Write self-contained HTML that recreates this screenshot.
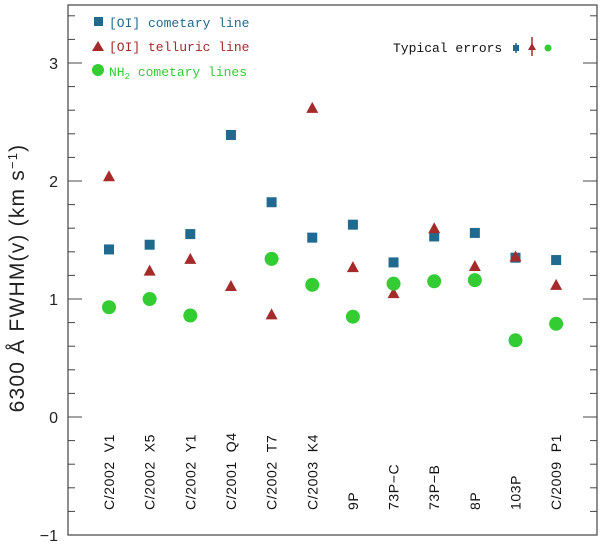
<!DOCTYPE html>
<html><head><meta charset="utf-8"><style>
body{margin:0;background:#fff;}
.sans{font-family:"Liberation Sans",sans-serif;}
.mono{font-family:"Liberation Mono",monospace;}
</style></head><body>
<svg id="chart" width="600" height="543" xmlns="http://www.w3.org/2000/svg">
<rect x="68" y="5" width="529" height="530" fill="none" stroke="#444" stroke-width="1.2"/>
<g id="ticks"></g>
<g id="cats"></g>
<g id="marks"></g>
<text class="sans" transform="translate(24,278) rotate(-90)" text-anchor="middle" font-size="21" letter-spacing="1.2" fill="#222">6300 Å FWHM(v) (km s<tspan dy="-7" font-size="13">−1</tspan><tspan dy="7">)</tspan></text>
<g font-size="13">
<rect x="94" y="17" width="9" height="9" fill="#1f6a8e"/>
<text class="mono" x="109" y="27" fill="#1f6a8e">[OI] cometary line</text>
<polygon points="98,41 104,51 92,51" fill="#a52a2a"/>
<text class="mono" x="109" y="51" fill="#a52a2a">[OI] telluric line</text>
<circle cx="98" cy="70" r="6" fill="#33cc33"/>
<text class="mono" x="109" y="76" fill="#33cc33">NH<tspan dy="3" font-size="9">2</tspan><tspan dy="-3"> cometary lines</tspan></text>
</g>
<g>
<text class="mono" x="393" y="52" font-size="13" fill="#111">Typical errors</text>
<line x1="516" y1="43" x2="516" y2="53" stroke="#1f6a8e" stroke-width="1.5"/>
<rect x="513" y="45" width="6" height="6" fill="#1f6a8e"/>
<line x1="532" y1="37" x2="532" y2="56" stroke="#a52a2a" stroke-width="1.5"/>
<polygon points="532,43 536,50 528,50" fill="#a52a2a"/>
<circle cx="548" cy="48" r="3.5" fill="#33cc33"/>
</g>
</svg>
<script>
const categories=["C/2002 V1","C/2002 X5","C/2002 Y1","C/2001 Q4","C/2002 T7","C/2003 K4","9P","73P\u2212C","73P\u2212B","8P","103P","C/2009 P1"];
const oiCometary=[1.42,1.46,1.55,2.39,1.82,1.52,1.63,1.31,1.53,1.56,1.35,1.33];
const oiTelluric=[2.04,1.24,1.34,1.11,0.87,2.62,1.27,1.05,1.60,1.28,1.36,1.12];
const nh2=[0.93,1.00,0.86,null,1.34,1.12,0.85,1.13,1.15,1.16,0.65,0.79];
const yTicks=[-1,0,1,2,3];
const NS="http://www.w3.org/2000/svg";
const y=v=>417-v*118;
const x=i=>109+i*40.65;
function mk(tag,attrs,parent){const e=document.createElementNS(NS,tag);for(const k in attrs)e.setAttribute(k,attrs[k]);parent.appendChild(e);return e;}
const tg=document.getElementById('ticks');
for(let k=-5;k<=17;k++){const v=k/5,yy=y(v);const major=k%5===0;const L=major?14:7;
 mk('line',{x1:68,y1:yy,x2:68+L,y2:yy,stroke:'#444','stroke-width':1},tg);
 mk('line',{x1:597,y1:yy,x2:597-L,y2:yy,stroke:'#444','stroke-width':1},tg);}
yTicks.forEach(v=>{const t=mk('text',{x:58,y:y(v)+6,'text-anchor':'end','font-size':16,fill:'#222','class':'sans'},tg);


t.textContent=v<0?'\u22121':String(v);});
const cg=document.getElementById('cats');
categories.forEach((c,i)=>{const t=mk('text',{transform:`translate(${x(i)+5},510) rotate(-90)`,'font-size':14,'letter-spacing':0.6,fill:'#111','class':'sans'},cg);


t.textContent=c.replace(' ','\u00a0\u00a0');});
const mg=document.getElementById('marks');
oiCometary.forEach((v,i)=>{if(v==null)return;const r=mk('rect',{x:x(i)-5,y:y(v)-5,width:10,height:10,fill:'#1f6a8e'},mg);

});
oiTelluric.forEach((v,i)=>{if(v==null)return;const X=x(i),Y=y(v);const p=mk('polygon',{points:`${X},${Y-6} ${X+6},${Y+5} ${X-6},${Y+5}`,fill:'#a52a2a'},mg);

});
nh2.forEach((v,i)=>{if(v==null)return;const c=mk('circle',{cx:x(i),cy:y(v),r:7,fill:'#33cc33'},mg);

});
</script>
</body></html>
